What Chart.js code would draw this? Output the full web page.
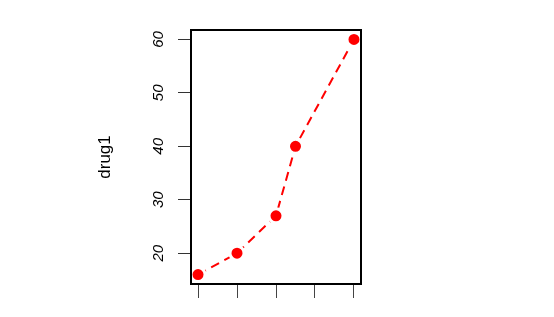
<!DOCTYPE html>
<html>
<head>
<meta charset="utf-8">
<script src="https://cdn.jsdelivr.net/npm/chart.js@4"></script>
<style>
  body { margin: 0; background: #fff; }
  #wrap { width: 554px; height: 317px; }
</style>
</head>
<body>
<div id="wrap"><canvas id="lineChart" width="554" height="317"></canvas></div>
<script>
// dane z wykresu
const dose = [20, 30, 40, 45, 60];
const drug1 = [16, 20, 27, 40, 60];
const yTicks = [20, 30, 40, 50, 60];
const xTicks = [20, 30, 40, 50, 60];

const points = dose.map((d, i) => ({ x: d, y: drug1[i] }));

// ramka dookola wykresu + obrocone etykiety osi y
const ramka = {
    id: 'ramka',
    afterDraw(chart) {
        const ctx = chart.ctx;
        const a = chart.chartArea;
        ctx.save();
        ctx.strokeStyle = '#000';
        ctx.lineWidth = 2;
        ctx.strokeRect(a.left, a.top, a.right - a.left, a.bottom - a.top);

        const y = chart.scales.y;
        ctx.fillStyle = '#000';
        ctx.font = 'italic 15px "Liberation Sans", Arial, sans-serif';
        ctx.textAlign = 'center';
        ctx.textBaseline = 'alphabetic';
        yTicks.forEach(v => {
            ctx.save();
            ctx.translate(163, y.getPixelForValue(v));
            ctx.rotate(-Math.PI / 2);
            ctx.fillText(String(v), 0, 0);
            ctx.restore();
        });
        ctx.restore();
    }
};

new Chart(document.getElementById('lineChart'), {
    type: 'line',
    data: {
        datasets: [{
            // linia przerywana
            data: points,
            order: 1,
            borderColor: '#ff0000',
            borderWidth: 2,
            borderDash: [9, 6],
            pointRadius: 0,
            fill: false,
            tension: 0
        }, {
            // punkty z biala obwodka zeby byla przerwa jak w type="b"
            data: points,
            order: 0,
            showLine: false,
            pointRadius: 7,
            pointBackgroundColor: '#ff0000',
            pointBorderColor: '#ffffff',
            pointBorderWidth: 3
        }]
    },
    options: {
        responsive: false,
        animation: false,
        plugins: { legend: { display: false }, tooltip: { enabled: false } },
        layout: { padding: { top: 30, right: 193, bottom: 0, left: 0 }, autoPadding: false },
        scales: {
            x: {
                type: 'linear',
                min: 18.2,
                max: 61.8,
                afterBuildTicks: s => { s.ticks = xTicks.map(v => ({ value: v })); },
                afterFit: s => { s.height = 33; },
                ticks: { display: false },
                border: { display: false },
                grid: { drawOnChartArea: false, tickLength: 14, tickColor: '#444', lineWidth: 1 }
            },
            y: {
                type: 'linear',
                min: 14.24,
                max: 61.76,
                afterBuildTicks: s => { s.ticks = yTicks.map(v => ({ value: v })); },
                afterFit: s => { s.width = 191; },
                ticks: { display: false },
                border: { display: false },
                grid: { drawOnChartArea: false, tickLength: 13, tickColor: '#333', lineWidth: 1 },
                title: {
                    display: true,
                    text: 'drug1',
                    color: '#000',
                    font: { family: '"Liberation Sans", Arial, sans-serif', size: 17 },
                    padding: { top: 95, bottom: 0 }
                }
            }
        }
    },
    plugins: [ramka]
});
</script>
</body>
</html>
